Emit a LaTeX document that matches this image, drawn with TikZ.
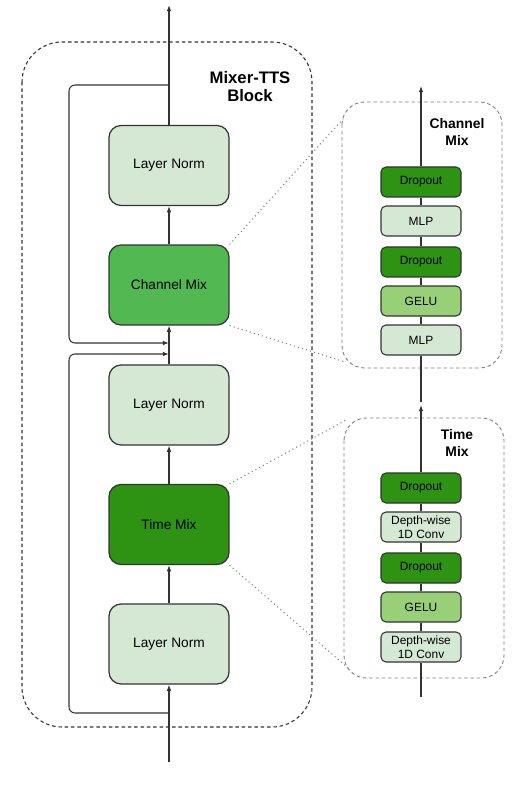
\documentclass[tikz,border=0pt]{standalone}
\usepackage{fontspec}
\setmainfont{Liberation Sans}
\usetikzlibrary{arrows.meta,positioning}
\definecolor{normgreen}{HTML}{D5E8D4}
\definecolor{chgreen}{HTML}{52B852}
\definecolor{darkgreen}{HTML}{2E9213}
\definecolor{gelugreen}{HTML}{97D077}
\definecolor{linegray}{HTML}{333333}

\begin{document}
\begin{tikzpicture}[x=0.02cm,y=-0.02cm,
    block/.style={draw=linegray, line width=0.7pt, rounded corners=0.24cm, minimum width=2.4cm, minimum height=1.6cm, inner sep=0pt, font=\fontsize{7.8}{9.4}\selectfont},
    layer/.style={draw=linegray, line width=0.6pt, rounded corners=0.1cm, minimum width=1.6cm, minimum height=0.6cm, inner sep=0pt, align=center, font=\fontsize{6.8}{7.9}\selectfont},
    flow/.style={linegray, line width=0.6pt},
    tip/.style={flow, -{Latex[length=3.5pt,width=2.6pt]}},
    frame/.style={draw=linegray, line width=0.6pt, dash pattern=on 2pt off 1.6pt},
    panel/.style={draw=gray, line width=0.5pt, dash pattern=on 2pt off 1.6pt, rounded corners=0.45cm},
    zoomline/.style={gray, line width=0.6pt, dash pattern=on 0.6pt off 1.8pt},
    heading/.style={align=center, font=\bfseries\fontsize{9.5}{10.2}\selectfont},
    subheading/.style={align=center, font=\bfseries\fontsize{7.9}{9.4}\selectfont}]
\useasboundingbox (0,0) rectangle (518,786);

% block frame
\draw[frame, rounded corners=0.8cm] (22,42) rectangle (312,727);
\node[heading] (title) at (250,87) {Mixer-TTS\\Block};

\node[block, fill=normgreen] (ln3) at (169,165.5) {Layer Norm};
\node[block, fill=chgreen] (cmix) at (169,285) {Channel Mix};
\node[block, fill=normgreen] (ln2) at (169,405) {Layer Norm};
\node[block, fill=darkgreen] (tmix) at (169,524.5) {Time Mix};
\node[block, fill=normgreen] (ln1) at (169,644) {Layer Norm};

\coordinate (in) at (169,762);
\coordinate (out) at (169,5);
\coordinate (split1) at (169,713);
\coordinate (split2) at (169,85);
\coordinate (join1) at (169,354);
\coordinate (join2) at (169,343);
\coordinate (skipL) at (69,0);

\draw[tip] (in) -- (ln1.south);
\draw[tip] (ln1.north) -- (tmix.south);
\draw[tip] (tmix.north) -- (ln2.south);
\draw[tip] (ln2.north) -- (cmix.south);
\draw[tip] (cmix.north) -- (ln3.south);
\draw[tip] (ln3.north) -- (out);

% residual paths
\draw[tip, rounded corners=0.12cm] (split1) -| (skipL |- join1) -- (join1);
\draw[tip, rounded corners=0.12cm] (split2) -| (skipL |- join2) -- (join2);

% channel mix detail
\draw[panel] (342,102) rectangle (502,368);
\node[subheading] (chtitle) at (457,132) {Channel\\Mix};
\node[layer, fill=darkgreen] (cd2) at (421,182) {Dropout};
\node[layer, fill=normgreen] (cm2) at (421,221) {MLP};
\node[layer, fill=darkgreen] (cd1) at (421,262) {Dropout};
\node[layer, fill=gelugreen] (cg) at (421,301) {GELU};
\node[layer, fill=normgreen] (cm1) at (421,340) {MLP};
\coordinate (cin) at (421,402);
\coordinate (cout) at (421,86);
\draw[flow] (cin) -- (cm1.south);
\draw[flow] (cm1.north) -- (cg.south);
\draw[flow] (cg.north) -- (cd1.south);
\draw[flow] (cd1.north) -- (cm2.south);
\draw[flow] (cm2.north) -- (cd2.south);
\draw[tip] (cd2.north) -- (cout);

% time mix detail
\draw[panel] (344,418) rectangle (504,678);
\node[subheading] (tmtitle) at (457,443) {Time\\Mix};
\node[layer, fill=darkgreen] (td2) at (421,488) {Dropout};
\node[layer, fill=normgreen] (tc2) at (421,527) {Depth-wise\\1D Conv};
\node[layer, fill=darkgreen] (td1) at (421,568) {Dropout};
\node[layer, fill=gelugreen] (tg) at (421,607) {GELU};
\node[layer, fill=normgreen] (tc1) at (421,647) {Depth-wise\\1D Conv};
\coordinate (tin) at (421,697);
\coordinate (tout) at (421,405);
\draw[flow] (tin) -- (tc1.south);
\draw[flow] (tc1.north) -- (tg.south);
\draw[flow] (tg.north) -- (td1.south);
\draw[flow] (td1.north) -- (tc2.south);
\draw[flow] (tc2.north) -- (td2.south);
\draw[tip] (td2.north) -- (tout);

% zoom lines
\coordinate (cz1) at (343,119);
\coordinate (cz2) at (345,362);
\coordinate (tz1) at (346,420);
\coordinate (tz2) at (348,668);
\draw[zoomline] (cmix.north east) -- (cz1);
\draw[zoomline] (cmix.south east) -- (cz2);
\draw[zoomline] (tmix.north east) -- (tz1);
\draw[zoomline] (tmix.south east) -- (tz2);
\end{tikzpicture}
\end{document}
